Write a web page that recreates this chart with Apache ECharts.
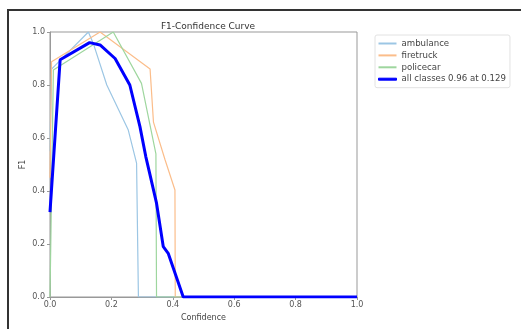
<!DOCTYPE html>
<html>
<head>
<meta charset="utf-8">
<script src="https://cdn.jsdelivr.net/npm/echarts@6/dist/echarts.min.js"></script>
<style>
  html, body { margin: 0; padding: 0; background: #fff; }
  #frame { position: absolute; left: 7px; top: 9px; width: 514px; height: 320px;
           border-top: 2px solid #333; border-left: 2px solid #333; }
  #chart { position: absolute; left: 0; top: 0; width: 521px; height: 329px; }
</style>
</head>
<body>
<div id="frame"></div>
<div id="chart"></div>
<script>
// 数据 -- 每个类别的 confidence / F1
const classNames = ['ambulance', 'firetruck', 'policecar', 'all classes 0.96 at 0.129'];

const ambulanceConf = [0.0, 0.005, 0.125, 0.141, 0.185, 0.255, 0.282, 0.288, 0.288, 1.0];
const ambulanceF1   = [0.55, 0.86, 1.0, 0.957, 0.80, 0.63, 0.505, 0.50, 0.0, 0.0];

const firetruckConf = [0.0, 0.005, 0.163, 0.326, 0.337, 0.375, 0.407, 0.408, 1.0];
const firetruckF1   = [0.45, 0.888, 1.0, 0.86, 0.66, 0.517, 0.404, 0.0, 0.0];

const policecarConf = [0.0, 0.011, 0.206, 0.298, 0.345, 0.347, 1.0];
const policecarF1   = [0.0, 0.857, 1.0, 0.806, 0.54, 0.0, 0.0];

const allConf = [0.0, 0.033, 0.129, 0.163, 0.212, 0.26, 0.293, 0.312, 0.326, 0.347, 0.369, 0.385, 0.434, 1.0];
const allF1   = [0.32, 0.895, 0.96, 0.951, 0.90, 0.80, 0.643, 0.53, 0.46, 0.354, 0.19, 0.165, 0.0, 0.0];

function pairs(xs, ys) {
  return xs.map((x, i) => [x, ys[i]]);
}

const font = 'DejaVu Sans';
const colors = ['#9cc6e4', '#fbbd8a', '#9ed69e', '#0000ff'];

const option = {
  animation: false,
  title: {
    text: 'F1-Confidence Curve',
    left: 203, top: 17, textAlign: 'center',
    textStyle: { fontFamily: font, fontSize: 9, fontWeight: 'normal', color: '#333' }
  },
  legend: {
    orient: 'vertical',
    left: 375, top: 35,
    padding: [4, 4, 4, 3],
    itemGap: 2.9,
    itemWidth: 18, itemHeight: 2,
    icon: 'rect',
    borderColor: '#e2e2e2', borderWidth: 1, borderRadius: 2,
    textStyle: { fontFamily: font, fontSize: 8.6, color: '#444', lineHeight: 9 },
    data: classNames.map((n, i) => i === 3
      ? { name: n, itemStyle: { borderColor: colors[3], borderWidth: 1 } }
      : { name: n })
  },
  grid: {
    left: 50, top: 32, width: 307, height: 265,
    show: true, borderColor: '#999', borderWidth: 1
  },
  xAxis: {
    type: 'value', min: 0, max: 1, interval: 0.2,
    name: 'Confidence', nameLocation: 'middle', nameGap: 17, nameMoveOverlap: false,
    nameTextStyle: { fontFamily: font, fontSize: 8, color: '#444' },
    axisLine: { lineStyle: { color: '#999' } },
    axisTick: { length: 3, lineStyle: { color: '#999' } },
    axisLabel: { fontFamily: font, fontSize: 8, color: '#555', margin: 4,
                 formatter: v => v.toFixed(1) },
    splitLine: { show: false }
  },
  yAxis: {
    type: 'value', min: 0, max: 1, interval: 0.2,
    name: 'F1', nameLocation: 'middle', nameGap: 23, nameMoveOverlap: false,
    nameTextStyle: { fontFamily: font, fontSize: 8, color: '#444' },
    axisLine: { show: true, lineStyle: { color: '#999' } },
    axisTick: { show: true, length: 3, lineStyle: { color: '#999' } },
    axisLabel: { fontFamily: font, fontSize: 8, color: '#555', margin: 5,
                 formatter: v => v.toFixed(1) },
    splitLine: { show: false }
  },
  series: [
    { name: classNames[0], type: 'line', symbol: 'none', data: pairs(ambulanceConf, ambulanceF1),
      lineStyle: { width: 1.2, color: colors[0] }, itemStyle: { color: colors[0] } },
    { name: classNames[1], type: 'line', symbol: 'none', data: pairs(firetruckConf, firetruckF1),
      lineStyle: { width: 1.2, color: colors[1] }, itemStyle: { color: colors[1] } },
    { name: classNames[2], type: 'line', symbol: 'none', data: pairs(policecarConf, policecarF1),
      lineStyle: { width: 1.2, color: colors[2] }, itemStyle: { color: colors[2] } },
    { name: classNames[3], type: 'line', symbol: 'none', data: pairs(allConf, allF1),
      lineStyle: { width: 3, color: colors[3] }, itemStyle: { color: colors[3] } }
  ]
};

const chart = echarts.init(document.getElementById('chart'));
chart.setOption(option);
</script>
</body>
</html>
